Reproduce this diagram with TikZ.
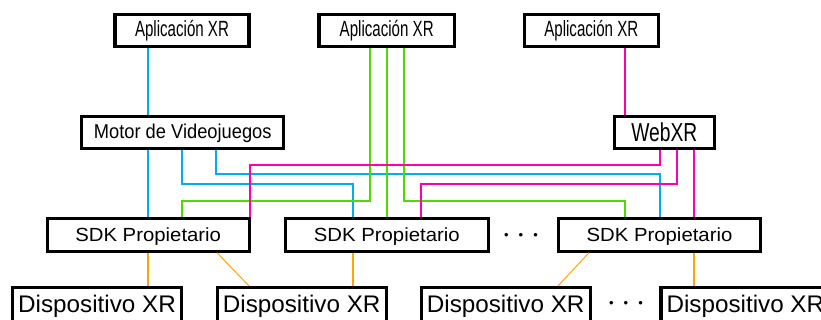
\documentclass[tikz,border=0pt]{standalone}
\usepackage{fontspec}
\setmainfont{Liberation Sans}
\usepackage{graphicx}
\definecolor{lnblue}{HTML}{00AEEF}
\definecolor{lngreen}{HTML}{4DDB00}
\definecolor{lnmag}{HTML}{FF00AA}
\definecolor{lnorange}{HTML}{FFA500}
\newcommand\hwtext[3]{\scalebox{#2}[1]{\fontsize{#1}{#1}\selectfont #3}}
\begin{document}
\begin{tikzpicture}[x=1pt,y=-1pt,
  box/.style={draw=black,line width=3.2pt,inner sep=0pt,text depth=0pt},
  appbox/.style={box,minimum width=134pt,minimum height=32.4pt,text height=13pt},
  sdkbox/.style={box,minimum width=202pt,minimum height=32.8pt,text height=12.6pt},
  devbox/.style={box,minimum width=169pt,minimum height=36pt,text height=12.8pt},
  bluel/.style={draw=lnblue,line width=2pt},
  greenl/.style={draw=lngreen,line width=2pt},
  magl/.style={draw=lnmag,line width=2pt},
  orl/.style={draw=lnorange,line width=2pt},
  orthin/.style={draw=lnorange,line width=1pt},
  dotsnode/.style={inner sep=0pt,font=\fontsize{13}{13}\selectfont}]
\useasboundingbox (0,0) rectangle (821,320);
\clip (0,0) rectangle (821,320);
% top applications
\node[appbox] (app1) at (182,30.5) {\hwtext{22}{0.686}{Aplicación XR}};
\node[appbox,minimum width=135.5pt] (app2) at (386.7,30.5) {\hwtext{22}{0.686}{Aplicación XR}};
\node[appbox] (app3) at (591.3,30.5) {\hwtext{22}{0.686}{Aplicación XR}};
% middle layer
\node[box,minimum width=202pt,minimum height=32pt,text height=13pt] (motor) at (182.7,132.5) {\hwtext{20}{0.915}{Motor de Videojuegos}};
\node[box,minimum width=100pt,minimum height=32pt,text height=19pt] (webxr) at (664.3,132.5) {\hwtext{26}{0.74}{WebXR}};
% SDK layer
\node[sdkbox] (sdk1) at (148.2,234.7) {\hwtext{19}{1.07}{SDK Propietario}};
\node[sdkbox,minimum width=203pt] (sdk2) at (386.8,234.7) {\hwtext{19}{1.07}{SDK Propietario}};
\node[sdkbox] (sdk3) at (659.5,234.7) {\hwtext{19}{1.07}{SDK Propietario}};
\node[dotsnode] (dots1) at (521,236) {\textbullet\hspace{10pt}\textbullet\hspace{10pt}\textbullet};
% devices
\node[devbox] (dev1) at (97,305.6) {\hwtext{24}{1.01}{Dispositivo XR}};
\node[devbox] (dev2) at (301.7,305.6) {\hwtext{24}{1.01}{Dispositivo XR}};
\node[devbox] (dev3) at (505.7,305.6) {\hwtext{24}{1.01}{Dispositivo XR}};
\node[devbox] (dev4) at (745.4,305.6) {\hwtext{24}{1.01}{Dispositivo XR}};
\node[dotsnode] (dots2) at (626,304) {\textbullet\hspace{10pt}\textbullet\hspace{10pt}\textbullet};
% blue connectors
\draw[bluel] (148,0 |- app1.south) -- (148,0 |- motor.north);
\draw[bluel] (148,0 |- motor.south) -- (148,0 |- sdk1.north);
\draw[bluel] (182,0 |- motor.south) -- (182,183.7) -- (353,183.7) -- (353,0 |- sdk2.north);
\draw[bluel] (216,0 |- motor.south) -- (216,174.3) -- (660,174.3) -- (660,0 |- sdk3.north);
% green connectors
\draw[greenl] (370,0 |- app2.south) -- (370,201) -- (182,201) -- (182,0 |- sdk1.north);
\draw[greenl] (387,0 |- app2.south) -- (387,0 |- sdk2.north);
\draw[greenl] (404,0 |- app2.south) -- (404,201) -- (625,201) -- (625,0 |- sdk3.north);
% magenta connectors
\draw[magl] (625,0 |- app3.south) -- (625,0 |- webxr.north);
\draw[magl] (660,0 |- webxr.south) -- (660,165.3) -- (250,165.3) -- (250,0 |- sdk1.north);
\draw[magl] (677,0 |- webxr.south) -- (677,183.7) -- (421,183.7) -- (421,0 |- sdk2.north);
\draw[magl] (694,0 |- webxr.south) -- (694,0 |- sdk3.north);
% orange connectors
\draw[orl] (148,0 |- sdk1.south) -- (148,0 |- dev1.north);
\draw[orthin] (217,0 |- sdk1.south) -- (249,0 |- dev2.north);
\draw[orl] (353,0 |- sdk2.south) -- (353,0 |- dev2.north);
\draw[orthin] (589,0 |- sdk3.south) -- (558,0 |- dev3.north);
\draw[orl] (694,0 |- sdk3.south) -- (694,0 |- dev4.north);
\end{tikzpicture}
\end{document}
